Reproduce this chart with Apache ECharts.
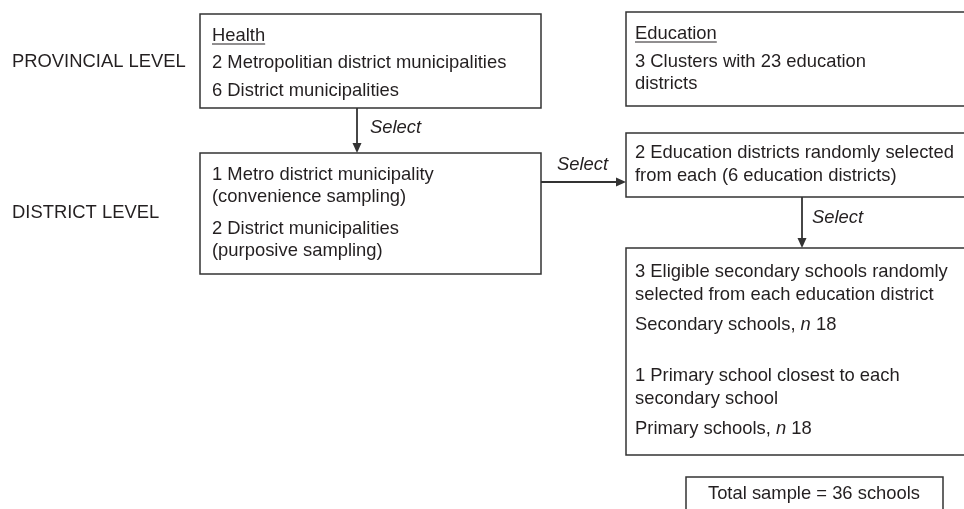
<!DOCTYPE html>
<html>
<head>
<meta charset="utf-8">
<script src="https://cdn.jsdelivr.net/npm/echarts@6/dist/echarts.min.js"></script>
<style>
  html, body { margin: 0; padding: 0; background: #ffffff; }
  #chart { width: 964px; height: 509px; }
</style>
</head>
<body>
<div id="chart"></div>
<script>
// Textos del diagrama
const levelLabels = ['PROVINCIAL LEVEL', 'DISTRICT LEVEL'];
const arrowLabel = 'Select';
const healthBox = ['Health', '2 Metropolitian district municipalities', '6 District municipalities'];
const districtBox = ['1 Metro district municipality', '(convenience sampling)', '2 District municipalities', '(purposive sampling)'];
const educationBox = ['Education', '3 Clusters with 23 education', 'districts'];
const eduDistrictBox = ['2 Education districts randomly selected', 'from each (6 education districts)'];
const schoolBox = [
    '3 Eligible secondary schools randomly',
    'selected from each education district',
    'Secondary schools, {i|n} 18',
    '1 Primary school closest to each',
    'secondary school',
    'Primary schools, {i|n} 18'
];
const totalBox = ['Total sample = 36 schools'];

// Layout (posiciones en px)
const FONT = '"Liberation Sans", Arial, Helvetica, sans-serif';
const SIZE = 18.4;
const INK = '#231f20';
const LINE = '#333333';

const boxes = [
    { lines: healthBox, rect: [200, 14, 341, 94], tx: 212, ys: [36, 63, 91], underline: true },
    { lines: districtBox, rect: [200, 153, 341, 121], tx: 212, ys: [175, 197, 229, 251] },
    { lines: educationBox, rect: [626, 12, 360, 94], tx: 635, ys: [34, 62, 84], underline: true },
    { lines: eduDistrictBox, rect: [626, 133, 360, 64], tx: 635, ys: [153, 176] },
    { lines: schoolBox, rect: [626, 248, 360, 207], tx: 635, ys: [272, 295, 325, 376, 399, 429] },
    { lines: totalBox, rect: [686, 477, 257, 60], tx: 814, ys: [494], center: true }
];

const levels = [
    { x: 12, y: 62 },
    { x: 12, y: 213 }
];

const arrows = [
    { from: [357, 108], to: [357, 153], label: [370, 128] },
    { from: [541, 182], to: [626, 182], label: [557, 165] },
    { from: [802, 197], to: [802, 248], label: [812, 218] }
];

function textWidth(str) {
    const ctx = document.createElement('canvas').getContext('2d');
    ctx.font = SIZE + 'px ' + FONT;
    return ctx.measureText(str).width;
}

function textEl(str, x, y, opts) {
    opts = opts || {};
    return {
        type: 'text',
        silent: true,
        style: {
            text: str,
            x: x,
            y: y,
            fill: INK,
            fontSize: SIZE,
            fontFamily: FONT,
            fontStyle: opts.italic ? 'italic' : 'normal',
            align: opts.align || 'left',
            verticalAlign: 'middle',
            rich: {
                i: { fontStyle: 'italic', fontSize: SIZE, fontFamily: FONT, fill: INK }
            }
        }
    };
}

function buildGraphic() {
    const els = [];

    levelLabels.forEach((lbl, i) => {
        els.push(textEl(lbl, levels[i].x, levels[i].y));
    });

    boxes.forEach(b => {
        els.push({
            type: 'rect',
            silent: true,
            shape: { x: b.rect[0], y: b.rect[1], width: b.rect[2], height: b.rect[3] },
            style: { fill: 'none', stroke: LINE, lineWidth: 1.5 }
        });
        b.lines.forEach((ln, i) => {
            els.push(textEl(ln, b.tx, b.ys[i], { align: b.center ? 'center' : 'left' }));
        });
        if (b.underline) {
            const w = textWidth(b.lines[0]);
            els.push({
                type: 'line',
                silent: true,
                shape: { x1: b.tx, y1: b.ys[0] + 8, x2: b.tx + w, y2: b.ys[0] + 8 },
                style: { stroke: INK, lineWidth: 1 }
            });
        }
    });

    arrows.forEach(a => {
        const [x1, y1] = a.from;
        const [x2, y2] = a.to;
        const horiz = y1 === y2;
        const head = 10, half = 4.5;
        const bx = horiz ? x2 - head : x2;
        const by = horiz ? y2 : y2 - head;
        els.push({
            type: 'line',
            silent: true,
            shape: { x1: x1, y1: y1, x2: bx, y2: by },
            style: { stroke: LINE, lineWidth: 1.8 }
        });
        els.push({
            type: 'polygon',
            silent: true,
            shape: {
                points: horiz
                    ? [[x2, y2], [bx, y2 - half], [bx, y2 + half]]
                    : [[x2, y2], [x2 - half, by], [x2 + half, by]]
            },
            style: { fill: LINE }
        });
        els.push(textEl(arrowLabel, a.label[0], a.label[1], { italic: true }));
    });

    return els;
}

const chart = echarts.init(document.getElementById('chart'), null, { renderer: 'canvas' });
chart.setOption({
    backgroundColor: '#ffffff',
    animation: false,
    graphic: { elements: buildGraphic() }
});
window.addEventListener('resize', () => chart.resize());
</script>
</body>
</html>
